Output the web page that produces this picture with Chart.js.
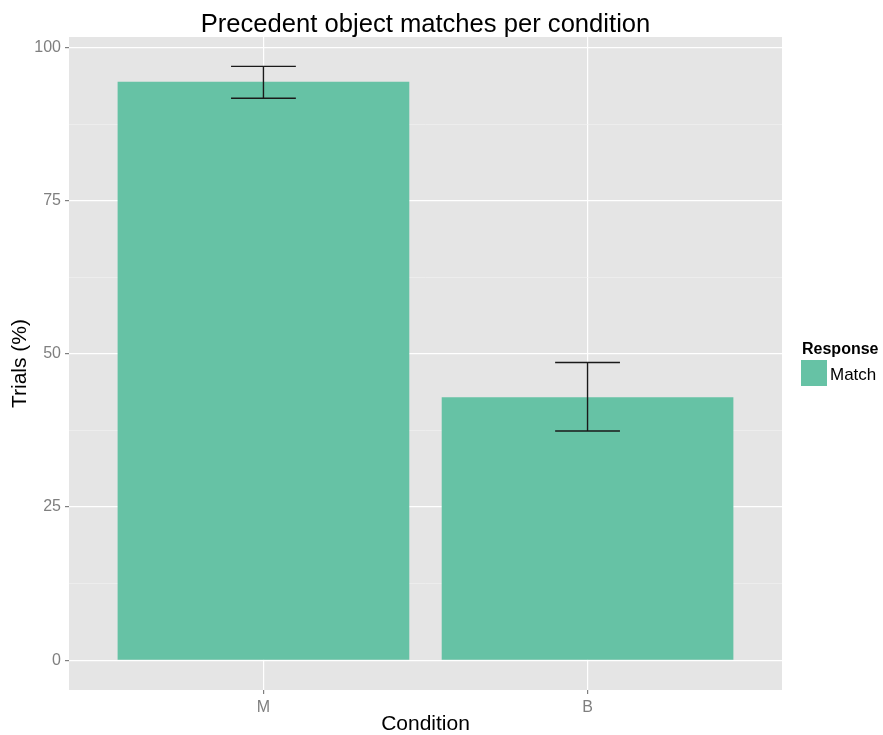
<!DOCTYPE html>
<html>
<head>
<meta charset="utf-8">
<script src="https://cdn.jsdelivr.net/npm/chart.js@4.4.1/dist/chart.umd.min.js"></script>
<style>
  html, body { margin: 0; padding: 0; background: #fff; }
  #wrap { width: 883px; height: 735px; }
</style>
</head>
<body>
<div id="wrap"><canvas id="chart" width="883" height="735"></canvas></div>
<script>
// ── data ───────────────────────────────────────────────────────────
const CATS = ["M", "B"];
const MATCH = [94.4, 42.9];        // % trials, bar height
const ERR_LO = [91.7, 37.4];       // error bar lower end
const ERR_HI = [96.9, 48.6];       // error bar upper end
const Y_TICKS = [0, 12.5, 25, 37.5, 50, 62.5, 75, 87.5, 100];

const FONT = "'Liberation Sans', Arial, Helvetica, sans-serif";
const GREEN = "#66C2A5";
const GREY = "#7F7F7F";
const isMajor = (v) => v % 25 === 0;

// panel background + title + legend, ggplot-ish
const decor = {
  id: "decor",
  beforeDraw(chart) {
    const { ctx, chartArea: a } = chart;
    ctx.save();
    ctx.fillStyle = "#E5E5E5";
    ctx.fillRect(a.left, a.top, a.right - a.left, a.bottom - a.top);
    ctx.restore();
  },
  afterDraw(chart) {
    const { ctx, chartArea: a } = chart;
    ctx.save();
    ctx.fillStyle = "#000";
    ctx.textAlign = "center";
    ctx.textBaseline = "alphabetic";
    ctx.font = "25.6px " + FONT;
    ctx.fillText("Precedent object matches per condition", (a.left + a.right) / 2, 32);

    // legend
    const lx = a.right + 19;
    ctx.textAlign = "left";
    ctx.font = "bold 16px " + FONT;
    ctx.fillText("Response", lx + 1, 354);
    ctx.fillStyle = GREEN;
    ctx.fillRect(lx, 360, 26, 26);
    ctx.fillStyle = "#000";
    ctx.font = "17px " + FONT;
    ctx.fillText("Match", lx + 29, 380);
    ctx.restore();
  },
};

// error bars, width 0.2 of a category
const errorBars = {
  id: "errorBars",
  afterDatasetsDraw(chart) {
    const { ctx, scales: { x, y } } = chart;
    ctx.save();
    ctx.strokeStyle = "#1a1a1a";
    ctx.lineWidth = 1.4;
    CATS.forEach((c, i) => {
      const xc = x.getPixelForValue(i + 1);
      const x0 = x.getPixelForValue(i + 1 - 0.1);
      const x1 = x.getPixelForValue(i + 1 + 0.1);
      const yl = y.getPixelForValue(ERR_LO[i]);
      const yh = y.getPixelForValue(ERR_HI[i]);
      ctx.beginPath();
      ctx.moveTo(x0, yh); ctx.lineTo(x1, yh);
      ctx.moveTo(x0, yl); ctx.lineTo(x1, yl);
      ctx.moveTo(xc, yh); ctx.lineTo(xc, yl);
      ctx.stroke();
    });
    ctx.restore();
  },
};

new Chart(document.getElementById("chart"), {
  type: "bar",
  data: {
    datasets: [{
      label: "Match",
      data: MATCH.map((v, i) => ({ x: i + 1, y: v })),
      backgroundColor: GREEN,
      borderWidth: 0,
      barPercentage: 0.9,
      categoryPercentage: 1,
    }],
  },
  options: {
    responsive: false,
    animation: false,
    layout: { padding: { top: 37, right: 101, left: 0, bottom: 0 } },
    plugins: { legend: { display: false }, title: { display: false }, tooltip: { enabled: false } },
    scales: {
      x: {
        type: "linear",
        min: 0.4, max: 2.6,
        offset: false,
        afterBuildTicks: (s) => { s.ticks = CATS.map((_, i) => ({ value: i + 1 })); },
        afterFit: (s) => { s.height = 45; },
        ticks: {
          callback: (v) => CATS[v - 1] || "",
          color: GREY, font: { family: FONT, size: 16 }, padding: 4, maxRotation: 0,
        },
        grid: { offset: false, color: "#fff", lineWidth: 1.2, tickColor: GREY, tickLength: 4 },
        border: { display: false },
        title: { display: true, text: "Condition", color: "#000",
          font: { family: FONT, size: 21, lineHeight: 1 }, padding: { top: 0, bottom: 0 } },
      },
      y: {
        min: -4.85, max: 101.7,
        afterBuildTicks: (s) => { s.ticks = Y_TICKS.map((v) => ({ value: v })); },
        afterFit: (s) => { s.width = 69; },
        ticks: {
          callback: (v) => (isMajor(v) ? String(v) : ""),
          color: GREY, font: { family: FONT, size: 16 }, padding: 4,
        },
        grid: {
          color: (c) => (isMajor(c.tick.value) ? "#fff" : "#F2F2F2"),
          lineWidth: (c) => (isMajor(c.tick.value) ? 1.2 : 0.6),
          tickColor: (c) => (isMajor(c.tick.value) ? GREY : "rgba(0,0,0,0)"),
          tickLength: 4,
        },
        border: { display: false },
        title: { display: true, text: "Trials (%)", color: "#000",
          font: { family: FONT, size: 21, lineHeight: 1 }, padding: { top: 10, bottom: 0 } },
      },
    },
  },
  plugins: [decor, errorBars],
});
</script>
</body>
</html>
